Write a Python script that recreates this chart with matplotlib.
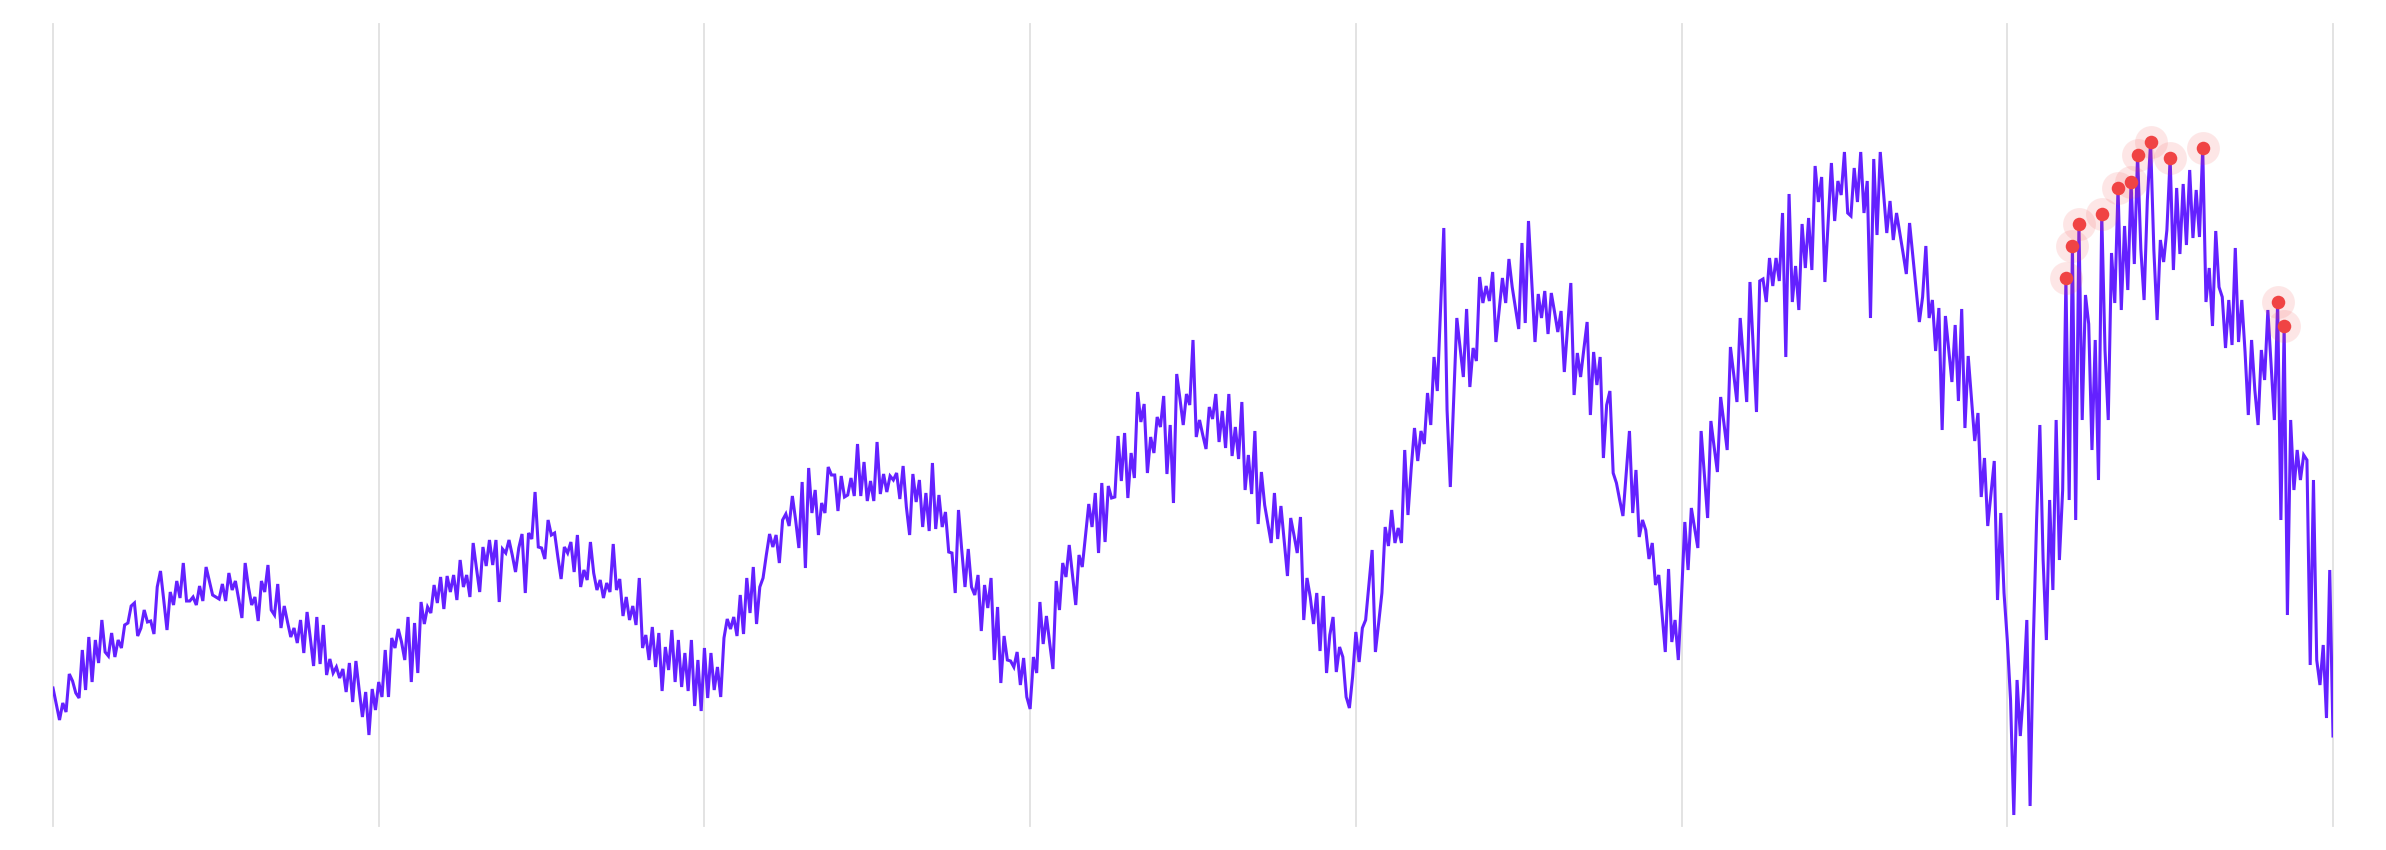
import numpy as np
import matplotlib
matplotlib.use("Agg")
import matplotlib.pyplot as plt

# ---- data ----
year1 = [138,122,106,123,114,152,145,133,128,176,
         136,189,144,186,163,206,174,170,193,169,
         186,178,201,203,220,223,190,198,216,204,
         205,192,239,255,226,196,234,221,245,228,
         263,225,225,229,221,240,225,259,245,231,
         229,227,242,225,253,236,245,227,208,263,
         239,221,229,205,245,234,261,216,211,242,
         198,220,204,189,198,183,206,173,214,188,
         160,209,162,201,151,167,153,159,148,157,
         134,163,124,165,136,109,134,91,137,116]
year2 = [144,129,176,129,188,178,197,184,166,209,
         144,203,153,224,202,219,213,241,223,249,
         217,250,234,251,226,266,239,251,229,283,
         258,234,279,260,286,261,286,224,277,273,
         286,271,254,278,292,233,293,287,334,279,
         278,267,306,291,293,269,247,279,273,284,
         254,291,239,256,246,284,253,236,246,228,
         243,234,282,236,247,210,229,206,220,201,
         248,178,191,166,199,159,193,135,179,156,
         196,144,186,139,173,135,186,120,166,115]
year3 = [178,128,173,136,159,129,188,207,197,209,
         190,231,192,248,213,259,202,239,248,271,
         292,279,291,263,306,312,300,330,306,278,
         344,258,358,313,336,291,323,313,359,351,
         351,315,350,329,331,348,330,382,330,364,
         325,345,325,384,332,352,334,350,346,353,
         327,360,319,291,352,324,346,299,333,295,
         363,297,331,299,314,274,273,233,316,276,
         239,277,239,231,251,195,241,218,248,166,
         219,143,190,166,165,159,174,141,168,129]
year4 = [117,169,153,224,182,210,183,157,245,216,
         263,249,281,251,221,271,259,290,322,299,
         333,273,343,284,340,328,329,390,345,393,
         328,373,348,434,404,422,353,389,373,409,
         399,430,352,401,323,452,427,401,432,421,
         486,389,406,391,377,419,407,432,384,415,
         378,432,370,399,367,424,336,371,332,395,
         302,354,321,302,283,333,287,320,285,250,
         308,291,273,309,206,248,229,202,233,175,
         230,153,191,209,154,179,169,129,118,149]
year5 = [194,164,198,206,241,276,174,203,233,299,
         280,316,283,298,283,376,311,358,398,365,
         395,382,433,401,469,435,517,598,416,339,
         423,508,478,449,517,439,478,465,549,523,
         540,525,554,484,516,548,523,567,539,518,
         497,583,503,605,545,484,532,508,535,492,
         533,514,494,515,454,499,543,431,473,449,
         477,504,411,474,441,469,368,421,435,353,
         343,326,310,353,395,313,356,289,306,296,
         267,283,241,251,213,174,257,184,206,166]
year6 = [231,304,256,318,298,278,395,351,308,405,
         379,354,429,403,376,479,452,424,508,466,
         424,544,479,414,545,547,524,568,540,568,
         545,613,469,632,524,560,516,602,558,608,
         556,660,624,649,544,604,663,605,645,631,
         674,613,610,658,624,674,613,645,508,667,
         591,674,634,593,625,586,613,593,573,552,
         603,570,537,504,529,580,508,526,475,518,
         396,510,477,444,501,425,517,398,470,428,
         385,413,329,368,300,333,365,226,313,233]
year7 = [186,126,11,146,90,136,206,20,186,306,
         401,266,186,326,236,406,266,336,548,326,
         580,306,602,406,531,502,376,486,346,612,
         476,406,573,523,638,516,600,536,644,562,
         671,577,526,626,684,576,506,586,564,596,
         668,556,638,572,642,581,656,588,636,589,
         678,524,558,500,595,539,529,478,526,481,
         578,484,526,474,411,486,436,401,476,446,
         516,461,406,524,306,500,211,406,336,376,
         346,371,366,161,346,166,141,181,108,256,
         90]

highlight_idx = [618, 620, 622, 629, 634, 638, 640, 644, 650, 660, 683, 685]
grid_ticks = [0, 100, 200, 300, 400, 500, 600, 700]

values = np.array(year1 + year2 + year3 + year4 + year5 + year6 + year7, dtype=float)
x = np.arange(len(values))

W, H = 2386, 850
fig = plt.figure(figsize=(W / 100, H / 100), dpi=100)
fig.patch.set_facecolor("white")
ax = fig.add_axes([53 / W, 24 / H, (2333 - 53) / W, (826 - 24) / H])

ax.plot(x, values, color="#6421FF", lw=2.2, solid_joinstyle="miter", zorder=2)

hx = x[highlight_idx]
hy = values[highlight_idx]
ax.scatter(hx, hy, s=560, color="#F04444", alpha=0.13, lw=0, zorder=3)
ax.scatter(hx, hy, s=95, color="#F04444", lw=0, zorder=4)

ax.set_xlim(0, 700)
ax.set_ylim(0, 802)
ax.set_xticks(grid_ticks)
ax.set_yticks([])
ax.tick_params(axis="x", length=0, labelbottom=False)
ax.grid(axis="x", color="#E0E0E0", lw=1.3)
for gl in ax.xaxis.get_gridlines():
    gl.set_clip_on(False)
ax.set_axisbelow(True)
for s in ax.spines.values():
    s.set_visible(False)

fig.savefig("out.png", dpi=100, facecolor="white")
